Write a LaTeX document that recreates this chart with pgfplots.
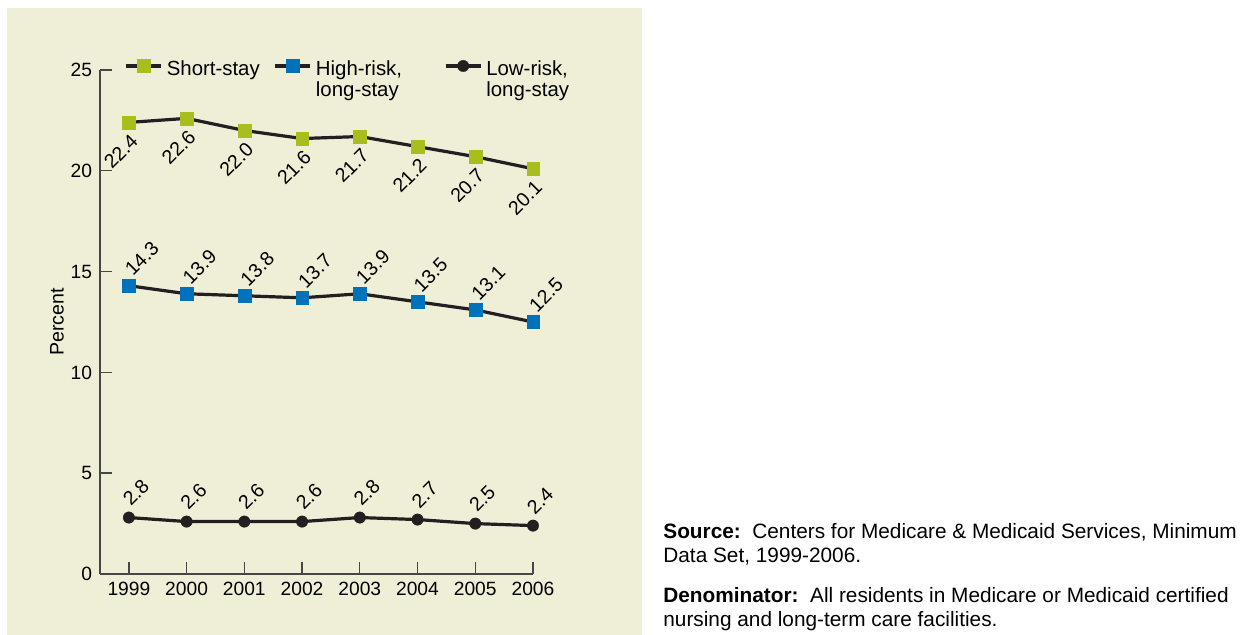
\documentclass[border=0pt]{standalone}
\usepackage{pgfplots}
\pgfplotsset{compat=1.18}
\usepackage{fontspec}
\setmainfont{Liberation Sans}
\definecolor{panel}{RGB}{238,239,214}
\definecolor{sgreen}{RGB}{169,189,31}
\definecolor{hblue}{RGB}{0,114,188}
\definecolor{lineblk}{RGB}{35,31,32}
\definecolor{axgray}{RGB}{70,70,70}
\begin{document}
\fontsize{9.6}{12}\selectfont
\begin{tikzpicture}[x=1pt,y=1pt]
\path (0,0) rectangle (622.5,317.5);
\fill[panel] (3.5,0) rectangle (321,313.5);
\begin{axis}[
  at={(50pt,30.5pt)}, anchor=origin,
  scale only axis, width=216.5pt, height=252pt,
  xmin=1998.5, xmax=2006, ymin=0, ymax=25,
  axis lines=left, axis line style={-, axgray, line width=0.7pt},
  tick align=inside, major tick length=6pt,
  tick style={axgray, line width=0.7pt},
  xtick={1999,...,2006},
  xticklabels={1999,\raisebox{-1pt}{2000},\raisebox{0.3pt}{2001},\raisebox{1.2pt}{2002},\raisebox{1.2pt}{2003},\raisebox{-0.5pt}{2004},\raisebox{2pt}{2005},\raisebox{2pt}{2006}},
  ytick={0,5,...,25},
  yticklabel style={/pgf/number format/assume math mode=true},
  tick label style={font=\fontsize{9.6}{12}\selectfont},
  ylabel={Percent},
  every axis y label/.style={at={(axis description cs:0,0.5)}, xshift=-21.5pt, rotate=90, anchor=center, font=\fontsize{9.8}{12}\selectfont},
  line width=1.6pt,
  nodes near coords={\pgfmathprintnumber[fixed,fixed zerofill,precision=1,assume math mode=true]{\pgfplotspointmeta}},
  every node near coord/.append style={font=\fontsize{9.8}{12}\selectfont, anchor=center, text=black},
  legend columns=3,
  legend image code/.code={\draw[mark repeat=2,mark phase=2] plot coordinates {(0pt,4.7pt)(8.75pt,4.7pt)(17.5pt,4.7pt)};},
  legend style={draw=none, fill=none, at={(axis description cs:0,1)}, anchor=north west, xshift=11.5pt, yshift=6pt,
    inner sep=0pt, nodes={inner sep=0pt, font=\fontsize{10.2}{12}\selectfont, anchor=base west},
    /tikz/column 1/.style={column sep=2pt},
    /tikz/column 2/.style={column sep=7pt},
    /tikz/column 3/.style={column sep=2pt},
    /tikz/column 4/.style={column sep=21pt},
    /tikz/column 5/.style={column sep=2pt}},
]
\addplot[lineblk, mark=square*, mark size=3.2pt, mark options={fill=sgreen, draw=sgreen, line width=0.1pt},
  every node near coord/.append style={xshift=-4pt, yshift=-14.5pt, rotate=45}]
  coordinates {(1999,22.4)(2000,22.6)(2001,22.0)(2002,21.6)(2003,21.7)(2004,21.2)(2005,20.7)(2006,20.1)};
\addlegendentry{Short-stay}
\addplot[lineblk, mark=square*, mark size=3.2pt, mark options={fill=hblue, draw=hblue, line width=0.1pt},
  every node near coord/.append style={xshift=6.5pt, yshift=13.5pt, rotate=45}]
  coordinates {(1999,14.3)(2000,13.9)(2001,13.8)(2002,13.7)(2003,13.9)(2004,13.5)(2005,13.1)(2006,12.5)};
\addlegendentry{\renewcommand{\arraystretch}{0.875}\begin{tabular}[t]{@{}l@{}}High-risk,\\long-stay\end{tabular}}
\addplot[lineblk, mark=*, mark size=2.9pt, mark options={fill=lineblk, draw=lineblk, line width=0.1pt},
  every node near coord/.append style={xshift=3.5pt, yshift=12.5pt, rotate=45}]
  coordinates {(1999,2.8)(2000,2.6)(2001,2.6)(2002,2.6)(2003,2.8)(2004,2.7)(2005,2.5)(2006,2.4)};
\addlegendentry{\renewcommand{\arraystretch}{0.875}\begin{tabular}[t]{@{}l@{}}Low-risk,\\long-stay\end{tabular}}
\end{axis}
\node[anchor=north west, align=left, inner sep=0pt, font=\fontsize{10.4}{12}\selectfont] at (331.5,56)
 {\textbf{Source:}\ \ Centers for Medicare \& Medicaid Services, Minimum\\Data Set, 1999-2006.\\[8pt]
  \textbf{Denominator:}\ \ All residents in Medicare or Medicaid certified\\nursing and long-term care facilities.};
\end{tikzpicture}
\end{document}
